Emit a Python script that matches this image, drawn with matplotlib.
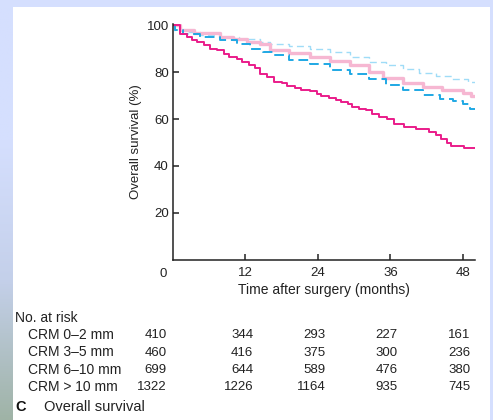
import numpy as np
import matplotlib.pyplot as plt
import matplotlib.colors as mcolors

plt.rcParams['font.family'] = ['Liberation Sans', 'DejaVu Sans']

# Kaplan-Meier style step curves (months, survival %)
t_lb = [0, 0.1, 2.0, 4.5, 7.8, 11.0, 14.4, 16.0, 19.2, 22.6, 26.0, 29.3, 32.5, 35.2, 38.0,
        40.8, 43.5, 46.2, 48.9, 50]
s_lb = [100, 98, 97, 96, 95, 94, 93, 91.9, 91.4, 90.1, 88.6, 86.5, 84.4, 83, 81.3,
        79.8, 78.4, 77.3, 75.8, 75.8]

t_pk = [0, 1.2, 3.4, 7.8, 10.0, 12.2, 14.4, 16.0, 19.2, 22.6, 26.0, 29.3, 32.5, 34.7, 38.0,
        41.4, 44.6, 48.0, 49.4, 50]
s_pk = [100, 98, 96.7, 95, 94, 93, 92, 89.6, 88.2, 86.5, 84.8, 83, 80.1, 77.5, 75.6,
        73.7, 72.3, 71.3, 69.9, 69.9]

t_bl = [0, 0.3, 1.6, 4.5, 7.8, 10.6, 12.7, 14.9, 16.6, 19.2, 22.6, 26.0, 29.3, 32.5, 35.2,
        38.0, 41.4, 44.2, 46.4, 48.0, 49.1, 50]
s_bl = [100, 97.9, 96.5, 95, 93.6, 92.2, 90, 88.6, 87.2, 85.1, 83.7, 81.1, 79.4, 77.3, 74.4,
        72.3, 70.2, 68.5, 67.6, 66.6, 64.5, 64.5]

t_mg = [0, 1.2, 2.3, 3.1, 4.0, 5.1, 6.2, 7.3, 8.4, 9.2, 10.6, 11.4, 12.5, 13.6, 14.4, 15.6,
        16.8, 18.0, 18.8, 20.2, 21.2, 22.6, 23.9, 24.5, 25.9, 27.0, 27.8, 28.9, 29.7, 30.8,
        31.9, 33.0, 34.1, 35.5, 36.6, 38.3, 40.2, 42.4, 43.5, 44.3, 45.4, 46.0, 48.2, 50]
s_mg = [100, 96.5, 95, 93.6, 92.9, 91.5, 90.1, 89.3, 87.9, 86.5, 85.8, 84.4, 83, 81.6, 79.4, 78,
        75.8, 75.2, 74, 73.4, 72.6, 72, 70.9, 69.7, 68.8, 68, 67.3, 66.3, 65.2, 64.5,
        63.8, 62, 60.9, 59.9, 58.1, 56.7, 55.7, 54.5, 53.1, 51.7, 50, 48.6, 47.7, 47.7]

x_ticks = [12, 24, 36, 48]
y_ticks = [20, 40, 60, 80, 100]

groups = ['CRM 0\u20132 mm', 'CRM 3\u20135 mm', 'CRM 6\u201310 mm', 'CRM > 10 mm']
at_risk = [
    [410, 344, 293, 227, 161],
    [460, 416, 375, 300, 236],
    [699, 644, 589, 476, 380],
    [1322, 1226, 1164, 935, 745],
]

W, H = 493, 420
fig = plt.figure(figsize=(W / 100, H / 100), dpi=100)
fig.patch.set_facecolor('white')

# page-like border: light blue top/right, gradient down the left edge
bg = fig.add_axes([0, 0, 1, 1], zorder=-10)
bg.set_xlim(0, W)
bg.set_ylim(H, 0)
bg.axis('off')
bg.add_patch(plt.Rectangle((0, 0), W, 7, color='#d5dffe', lw=0))
bg.add_patch(plt.Rectangle((490, 0), 3, H, color='#d5dffe', lw=0))
cmap = mcolors.LinearSegmentedColormap.from_list('edge', ['#d5dffe', '#d5dffe', '#c4d0ea', '#9fb3a6'])
grad = np.linspace(0, 1, 256).reshape(-1, 1)
bg.imshow(grad, cmap=cmap, extent=[0, 13, H, 0], aspect='auto')

ax = fig.add_axes([173 / W, 1 - 259.7 / H, (475 - 173) / W, (259.7 - 23.5) / H])
ax.set_facecolor('none')

ax.step(t_lb, s_lb, where='post', color='#9fdcf7', lw=1.0, dashes=(5, 3))
ax.step(t_pk, s_pk, where='post', color='#f6b7d2', lw=2.4)
ax.step(t_bl, s_bl, where='post', color='#1fa8e4', lw=1.4, dashes=(5, 2.5))
ax.step(t_mg, s_mg, where='post', color='#ea1c8a', lw=1.4)

ax.set_xlim(0, 50)
ax.set_ylim(0, 100.8)
ax.set_xticks(x_ticks)
ax.set_yticks(y_ticks)
for s in ['top', 'right']:
    ax.spines[s].set_visible(False)
for s in ['left', 'bottom']:
    ax.spines[s].set_linewidth(1.1)
    ax.spines[s].set_color('#222222')
ax.tick_params(direction='in', length=4, width=1.1, labelsize=9.5, colors='#222222', pad=3)
ax.tick_params(axis='x', pad=5)
ax.text(-1.6, -3.5, '0', ha='center', va='top', fontsize=9.5, color='#222222')
ax.set_xlabel('Time after surgery (months)', fontsize=10, color='#222222', labelpad=3)
ax.set_ylabel('Overall survival (%)', fontsize=9.5, color='#222222', labelpad=3)

# number-at-risk table
fs = 10
fig.text(15 / W, 1 - 318 / H, 'No. at risk', fontsize=fs, color='#222222', va='center')
col_x = [-1.0, 13.3, 25.3, 37.2, 49.3]
row_y = [335, 352.5, 370, 387]
for g, vals, yy in zip(groups, at_risk, row_y):
    fy = 1 - yy / H
    fig.text(28 / W, fy, g, fontsize=fs, color='#222222', va='center')
    for cx, v in zip(col_x, vals):
        px = ax.transData.transform((cx, 0))[0] / W
        fig.text(px, fy, str(v), fontsize=9.5, color='#222222', va='center', ha='right')

fig.text(15 / W, 1 - 407 / H, 'C', fontsize=10.5, fontweight='bold', color='#111111', va='center')
fig.text(44 / W, 1 - 407 / H, 'Overall survival', fontsize=10.5, color='#222222', va='center')

fig.savefig('out.png', dpi=100)
